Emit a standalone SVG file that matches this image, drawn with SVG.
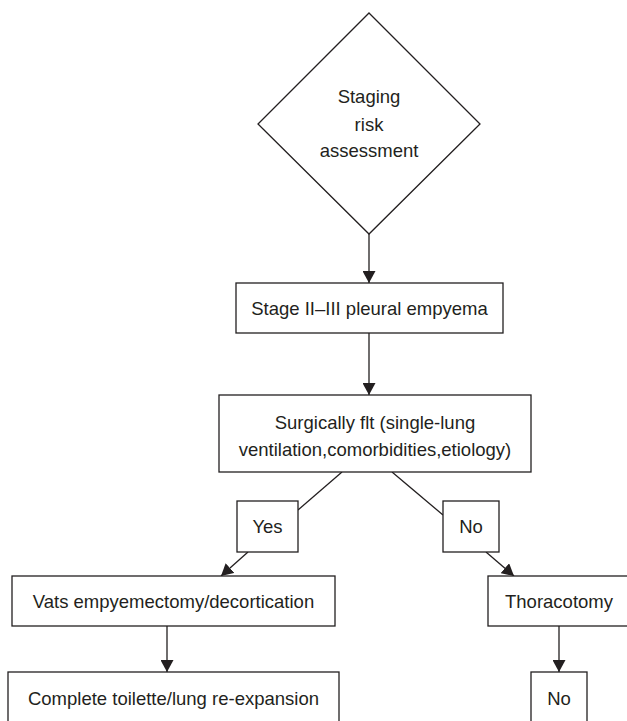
<svg xmlns="http://www.w3.org/2000/svg" width="627" height="721" viewBox="0 0 627 721">
<style>
.n{fill:#fff;stroke:#231f20;stroke-width:1.3}
.t{font-family:"Liberation Sans",Arial,sans-serif;font-size:18.5px;fill:#231f20;text-anchor:middle}
.c line{stroke:#231f20;stroke-width:1.3}
</style>
<defs>
<marker id="ah" markerUnits="userSpaceOnUse" markerWidth="12" markerHeight="13" refX="12" refY="6.5" orient="auto">
<path d="M0,0 L12,6.5 L0,13 z" fill="#231f20"/>
</marker>
</defs>
<rect width="627" height="721" fill="#fff"/>
<g class="c" id="connectors">
<line x1="369" y1="234" x2="369" y2="283" marker-end="url(#ah)"/>
<line x1="369" y1="333" x2="369" y2="395" marker-end="url(#ah)"/>
<line x1="342" y1="472" x2="298" y2="510"/>
<line x1="392" y1="472" x2="443" y2="515"/>
<line x1="248" y1="552" x2="221" y2="576" marker-end="url(#ah)"/>
<line x1="486" y1="552" x2="514" y2="576" marker-end="url(#ah)"/>
<line x1="167" y1="626" x2="167" y2="672" marker-end="url(#ah)"/>
<line x1="559" y1="626" x2="559" y2="672" marker-end="url(#ah)"/>
</g>
<g id="staging">
<polygon class="n" points="369,13 480,124 369,234 258,124"/>
<text class="t" x="369" y="103">Staging</text>
<text class="t" x="369" y="131">risk</text>
<text class="t" x="369" y="157">assessment</text>
</g>
<g id="stage">
<rect class="n" x="236" y="283" width="267" height="50"/>
<text class="t" x="369.5" y="314.5">Stage II–III pleural empyema</text>
</g>
<g id="surgically">
<rect class="n" x="219" y="395" width="312" height="77"/>
<text class="t" x="375" y="428.5">Surgically flt (single-lung</text>
<text class="t" x="375" y="455.5">ventilation,comorbidities,etiology)</text>
</g>
<g id="yes">
<rect class="n" x="237" y="501" width="61" height="51"/>
<text class="t" x="267.5" y="533">Yes</text>
</g>
<g id="no1">
<rect class="n" x="443" y="501" width="56" height="51"/>
<text class="t" x="471" y="533">No</text>
</g>
<g id="vats">
<rect class="n" x="12" y="576" width="323" height="50"/>
<text class="t" x="173.5" y="607.5">Vats empyemectomy/decortication</text>
</g>
<g id="thoracotomy">
<rect class="n" x="488" y="576" width="150" height="50"/>
<text class="t" x="559" y="607.5">Thoracotomy</text>
</g>
<g id="complete">
<rect class="n" x="8" y="672" width="331" height="60"/>
<text class="t" x="173.5" y="704.5">Complete toilette/lung re-expansion</text>
</g>
<g id="no2">
<rect class="n" x="531" y="672" width="56" height="60"/>
<text class="t" x="559" y="704.5">No</text>
</g>
</svg>
